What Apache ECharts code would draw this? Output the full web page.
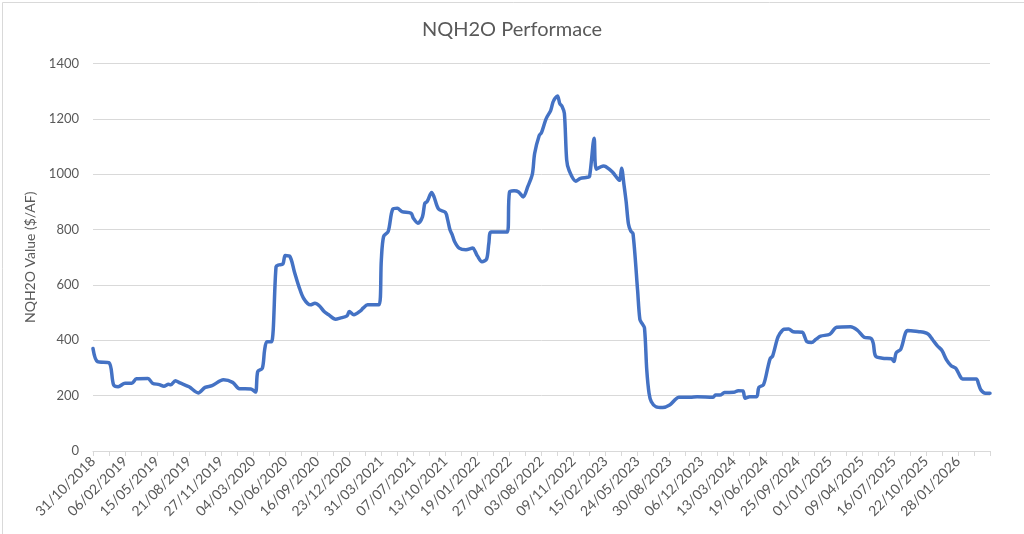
<!DOCTYPE html>
<html>
<head>
<meta charset="utf-8">
<script src="https://cdn.jsdelivr.net/npm/echarts@6/dist/echarts.min.js"></script>
<style>
html,body{margin:0;padding:0;background:#fff;}
#chart{width:1024px;height:534px;}
</style>
</head>
<body>
<div id="chart"></div>
<script>
// ---- data ----
const title = 'NQH2O Performace';
const yAxisName = 'NQH2O Value ($/AF)';
const startDate = '2018-10-31';
const endDate = '2026-05-06';
const dates = [
 '2018-10-31','2018-11-14','2018-12-19','2019-01-02','2019-01-16','2019-02-06','2019-02-27','2019-03-13','2019-04-17','2019-05-01',
 '2019-05-22','2019-06-05','2019-06-19','2019-06-26','2019-07-10','2019-07-24','2019-08-21','2019-09-18','2019-10-09','2019-10-30',
 '2019-12-04','2020-01-01','2020-01-22','2020-02-26','2020-03-11','2020-03-18','2020-04-01','2020-04-08','2020-04-15','2020-04-29',
 '2020-05-13','2020-05-20','2020-06-03','2020-06-10','2020-06-24','2020-07-08','2020-07-22','2020-08-05','2020-08-26','2020-09-09',
 '2020-09-23','2020-10-07','2020-10-21','2020-11-11','2020-11-25','2020-12-16','2020-12-23','2021-01-06','2021-01-27','2021-02-03',
 '2021-02-17','2021-03-24','2021-03-31','2021-04-07','2021-04-21','2021-05-05','2021-05-19','2021-06-02','2021-06-30','2021-07-07',
 '2021-07-21','2021-08-04','2021-08-11','2021-08-18','2021-09-01','2021-09-08','2021-09-22','2021-10-13','2021-10-20','2021-10-27',
 '2021-11-03','2021-11-10','2021-11-24','2021-12-15','2022-01-05','2022-01-12','2022-01-19','2022-02-02','2022-02-16','2022-02-23',
 '2022-03-02','2022-04-20','2022-04-27','2022-05-11','2022-05-25','2022-06-08','2022-06-22','2022-07-06','2022-07-13','2022-07-27',
 '2022-08-03','2022-08-17','2022-08-31','2022-09-07','2022-09-14','2022-09-21','2022-09-28','2022-10-05','2022-10-12','2022-10-19',
 '2022-10-26','2022-11-16','2022-11-30','2022-12-21','2022-12-28','2023-01-11','2023-01-18','2023-02-08','2023-02-15','2023-03-08',
 '2023-03-29','2023-04-05','2023-04-12','2023-04-19','2023-04-26','2023-05-03','2023-05-10','2023-05-24','2023-05-31','2023-06-07',
 '2023-06-14','2023-06-21','2023-06-28','2023-07-05','2023-07-19','2023-08-09','2023-08-30','2023-09-13','2023-09-27','2023-11-01',
 '2023-11-22','2024-01-10','2024-01-17','2024-01-31','2024-02-14','2024-03-13','2024-03-27','2024-04-10','2024-04-17','2024-05-01',
 '2024-05-22','2024-05-29','2024-06-12','2024-06-26','2024-07-03','2024-07-10','2024-07-24','2024-07-31','2024-08-14','2024-08-28',
 '2024-09-11','2024-10-09','2024-10-16','2024-10-23','2024-11-06','2024-11-20','2024-12-04','2025-01-01','2025-01-22','2025-03-05',
 '2025-03-26','2025-04-16','2025-05-07','2025-05-14','2025-05-21','2025-06-11','2025-07-09','2025-07-16','2025-07-23','2025-08-06',
 '2025-08-20','2025-08-27','2025-10-01','2025-10-15','2025-10-29','2025-11-12','2025-11-26','2025-12-10','2025-12-24','2026-01-07',
 '2026-01-21','2026-02-04','2026-02-11','2026-03-25','2026-04-01','2026-04-08','2026-04-22','2026-05-06'
];
const values = [
 370,323,319,239,232,245,245,261,262,245,
 240,234,241,239,254,246,232,210,230,236,
 257,248,225,224,213,287,299,365,395,395,
 666,672,676,706,703,648,594,552,528,534,
 524,504,492,476,480,488,504,492,507,516,
 528,528,690,775,793,874,877,865,859,841,
 823,847,895,901,934,919,874,862,835,799,
 781,757,733,727,733,721,705,684,693,751,
 791,791,935,940,936,918,955,1000,1075,1140,
 1150,1200,1230,1260,1275,1283,1255,1245,1220,1052,
 1015,975,985,989,992,1130,1018,1030,1028,1008,
 978,1022,965,900,820,795,785,580,475,460,
 445,293,209,178,160,157,166,182,194,194,
 196,194,202,202,211,212,218,217,191,196,
 196,230,239,305,335,343,404,422,440,441,
 431,429,413,395,392,404,415,422,447,449,
 437,411,407,389,343,335,333,323,355,368,
 425,435,431,429,422,401,380,363,329,308,
 299,269,260,260,242,221,209,209
];
const yTicks = {min: 0, max: 1400, step: 200};
const labelStepDays = 98;
const tickStepDays = 49;

// ---- helpers ----
function toUTC(s){ const p = s.split('-').map(Number); return Date.UTC(p[0], p[1]-1, p[2]); }
const DAY = 86400000;
const t0 = toUTC(startDate);
const span = Math.round((toUTC(endDate) - t0) / DAY);
const seriesData = dates.map((d, i) => [Math.round((toUTC(d) - t0) / DAY), values[i]]);
function fmt(day){
  const dt = new Date(t0 + day * DAY);
  const dd = String(dt.getUTCDate()).padStart(2,'0');
  const mm = String(dt.getUTCMonth()+1).padStart(2,'0');
  return dd + '/' + mm + '/' + dt.getUTCFullYear();
}

const FONT = 'Lato, "Open Sans", sans-serif';
const chart = echarts.init(document.getElementById('chart'), null, {renderer: 'canvas'});
chart.setOption({
  backgroundColor: '#ffffff',
  animation: false,
  textStyle: {fontFamily: FONT},
  title: {
    text: title, left: 'center', top: 15,
    textStyle: {fontFamily: FONT, fontSize: 20, fontWeight: 'normal', color: '#595959'}
  },
  graphic: [{
    type: 'rect', left: 0, top: 0,
    shape: {x: 0.5, y: 0.5, width: 1023, height: 533},
    style: {fill: 'none', stroke: '#d9d9d9', lineWidth: 1}, silent: true
  }],
  grid: {left: 93, right: 34, top: 63.5, bottom: 83, containLabel: false},
  xAxis: {
    type: 'value', min: 0, max: span, interval: tickStepDays,
    axisLine: {show: true, lineStyle: {color: '#d9d9d9', width: 1}},
    axisTick: {show: true, length: 5, lineStyle: {color: '#d9d9d9'}},
    splitLine: {show: false},
    axisLabel: {
      rotate: 45, margin: 8, color: '#595959', fontSize: 14, fontFamily: FONT,
      showMaxLabel: true, showMinLabel: true, hideOverlap: false,
      formatter: v => (v % labelStepDays === 0 && v < span) ? fmt(v) : ''
    }
  },
  yAxis: {
    type: 'value', min: yTicks.min, max: yTicks.max, interval: yTicks.step,
    name: yAxisName, nameLocation: 'middle', nameGap: 52, nameRotate: 90,
    nameTextStyle: {fontFamily: FONT, fontSize: 14, color: '#595959'},
    axisLine: {show: false}, axisTick: {show: false},
    splitLine: {lineStyle: {color: '#d9d9d9', width: 1}},
    axisLabel: {color: '#595959', fontSize: 13, margin: 14, fontFamily: FONT, formatter: v => String(v)}
  },
  series: [{
    type: 'line', data: seriesData, showSymbol: false, symbol: 'none',
    smooth: 0.3,
    lineStyle: {color: '#4472C4', width: 3.5, cap: 'round', join: 'round'},
    itemStyle: {color: '#4472C4'}
  }]
});
</script>
</body>
</html>
